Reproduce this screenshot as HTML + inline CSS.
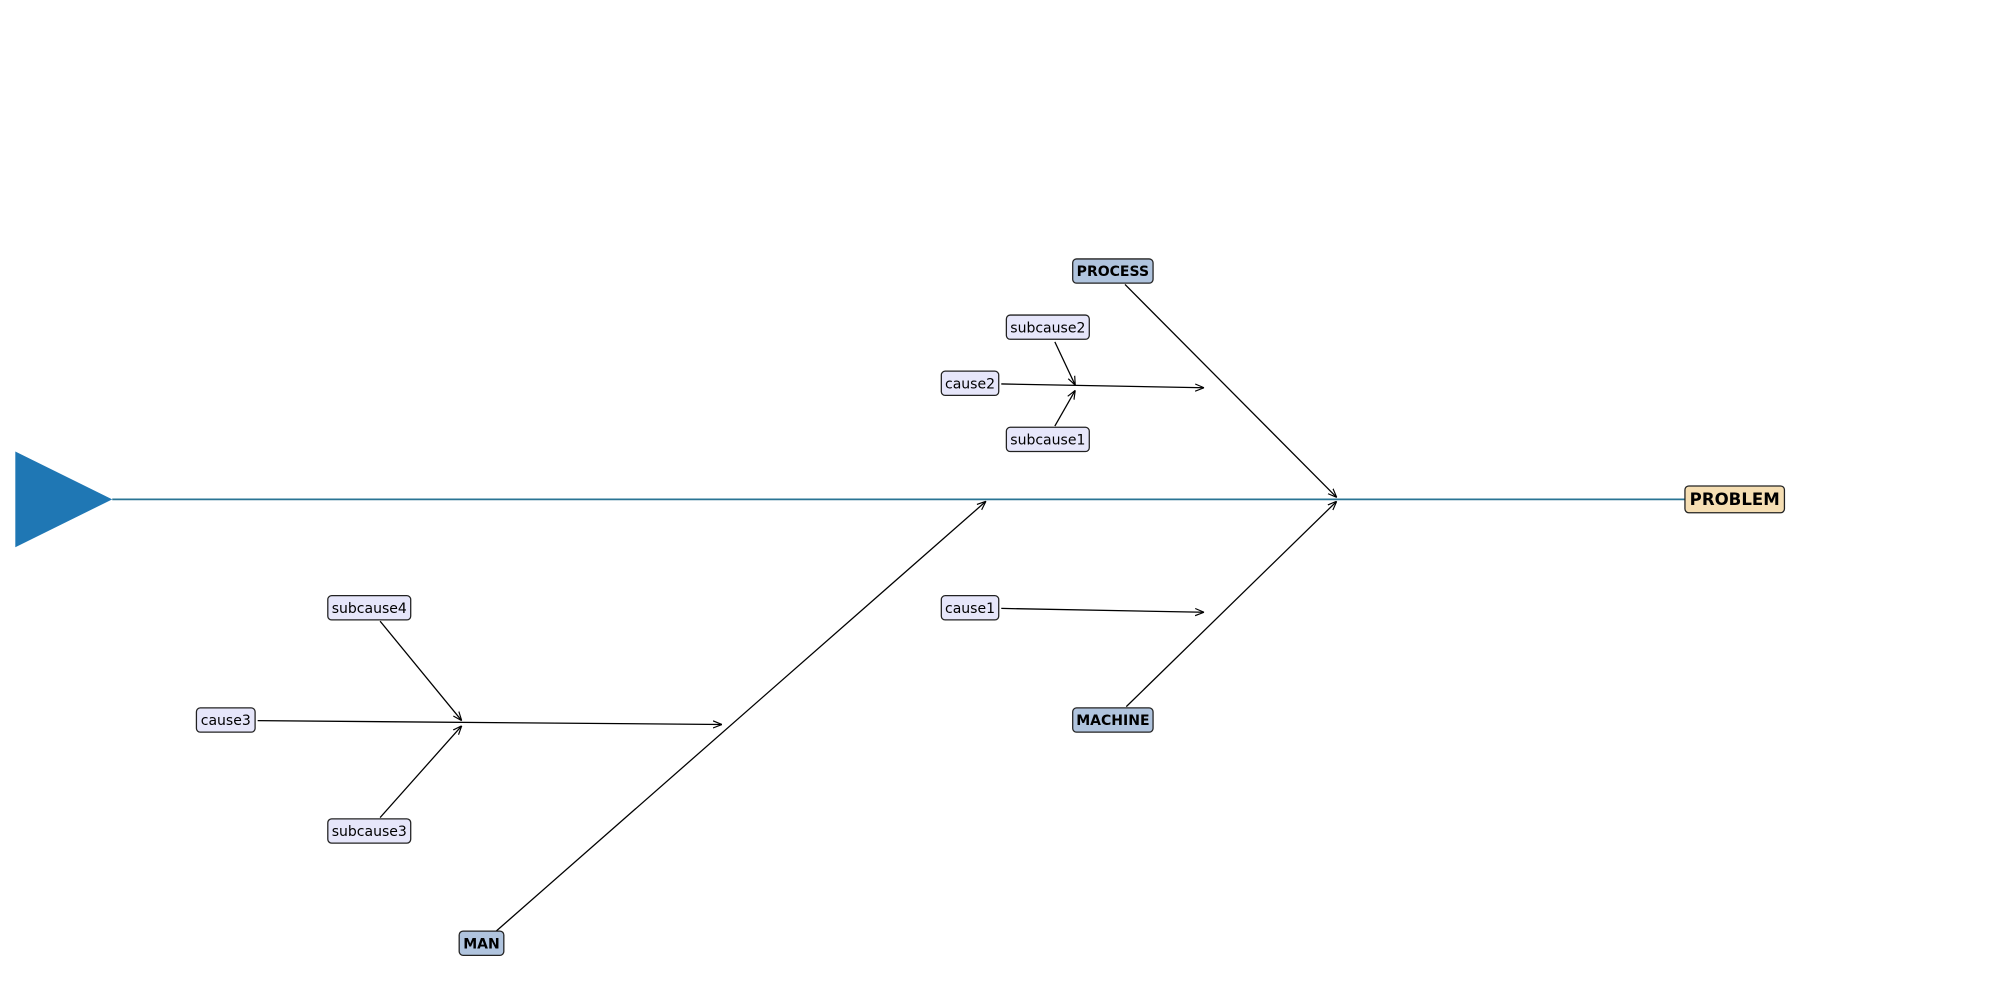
<!DOCTYPE html>
<html><head><meta charset="utf-8"><style>html,body{margin:0;padding:0;background:#fff}svg{display:block}</style></head>
<body>
<svg width="2000" height="1000" viewBox="0 0 1568 784" xmlns="http://www.w3.org/2000/svg">
<defs>
<marker id="a" viewBox="0 0 10 10" refX="10" refY="5" markerWidth="7" markerHeight="7" orient="auto" markerUnits="userSpaceOnUse">
<polyline points="0,1 10,5 0,9" fill="none" stroke="#000" stroke-width="1.3"/>
</marker>
</defs>
<polygon points="12,354 88,391.5 12,429" fill="#1f77b4"/>
<line x1="88" y1="391.5" x2="1322" y2="391.5" stroke="#2a7494" stroke-width="1.3"/>
<g stroke="#000" stroke-width="1" fill="none" marker-end="url(#a)">
<line x1="882" y1="223" x2="1048" y2="390"/>
<line x1="883" y1="554" x2="1048" y2="393"/>
<line x1="389" y1="730" x2="773" y2="393"/>
<line x1="785" y1="301" x2="944" y2="304"/>
<line x1="827" y1="268" x2="843" y2="302"/>
<line x1="827" y1="334" x2="843" y2="306"/>
<line x1="785" y1="477" x2="944" y2="480"/>
<line x1="202" y1="565" x2="566" y2="568"/>
<line x1="298" y1="487" x2="362" y2="565"/>
<line x1="298" y1="641" x2="362" y2="569"/>
</g>
<g stroke="#222" stroke-width="1" font-family="DejaVu Sans, Liberation Sans, sans-serif">
<rect x="1321" y="381" width="78" height="21" rx="3" fill="#f5deb3"/>
<rect x="841" y="203" width="63" height="19" rx="3" fill="#b0c4de"/>
<rect x="841" y="555" width="63" height="19" rx="3" fill="#b0c4de"/>
<rect x="360" y="730" width="35" height="19" rx="3" fill="#b0c4de"/>
<rect x="738" y="291" width="45" height="19" rx="3" fill="#e6e6fa"/>
<rect x="738" y="467" width="45" height="19" rx="3" fill="#e6e6fa"/>
<rect x="154" y="555" width="46" height="19" rx="3" fill="#e6e6fa"/>
<rect x="789" y="247" width="65" height="19" rx="3" fill="#e6e6fa"/>
<rect x="789" y="335" width="65" height="19" rx="3" fill="#e6e6fa"/>
<rect x="257" y="467" width="65" height="19" rx="3" fill="#e6e6fa"/>
<rect x="257" y="642" width="65" height="19" rx="3" fill="#e6e6fa"/>
</g>
<g font-family="DejaVu Sans, Liberation Sans, sans-serif" text-anchor="middle" fill="#000" font-size="11">
<text x="1360" y="396" font-size="13" font-weight="bold">PROBLEM</text>
<text x="872.5" y="216.5" font-weight="bold">PROCESS</text>
<text x="872.5" y="568.5" font-weight="bold">MACHINE</text>
<text x="377.5" y="743.5" font-weight="bold">MAN</text>
<text x="760.5" y="304.5">cause2</text>
<text x="760.5" y="480.5">cause1</text>
<text x="177" y="568.5">cause3</text>
<text x="821.5" y="260.5">subcause2</text>
<text x="821.5" y="348.5">subcause1</text>
<text x="289.5" y="480.5">subcause4</text>
<text x="289.5" y="655.5">subcause3</text>
</g>
</svg>
</body></html>
